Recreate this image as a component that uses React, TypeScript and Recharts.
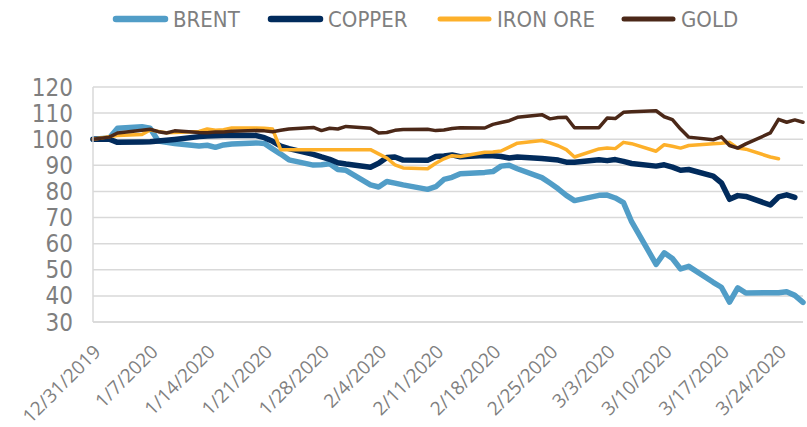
import React from 'react';
import { LineChart, Line, XAxis, YAxis, CartesianGrid } from 'recharts';

// Day offsets from 12/31/2019 of each trading day shown
const tradingDays = [0, 2, 3, 6, 7, 8, 9, 10, 13, 14, 15, 16, 17, 20, 21, 22, 23, 24, 27, 28, 29, 30, 31, 34, 35, 36, 37, 38, 41, 42, 43, 44, 45, 48, 49, 50, 51, 52, 55, 56, 57, 58, 59, 62, 63, 64, 65, 66, 69, 70, 71, 72, 73, 76, 77, 78, 79, 80, 83, 84, 85, 86, 87];

const brent = [100, 100.5, 104.2, 104.8, 104.2, 99.3, 98.8, 98.4, 97.4, 97.7, 96.9, 97.8, 98.2, 98.6, 98.4, 96.3, 94.3, 92.1, 90.1, 90.2, 90.6, 88.4, 88.1, 82.5, 81.7, 83.8, 83.2, 82.5, 80.8, 81.8, 84.6, 85.4, 86.8, 87.3, 87.6, 89.7, 90, 88.7, 85.3, 83.2, 81, 78.5, 76.5, 78.5, 78.6, 77.5, 75.7, 68.4, 52.1, 56.5, 54.3, 50.3, 51.3, 45.2, 43.3, 37.6, 43.1, 41.1, 41.2, 41.2, 41.6, 40.2, 37.5];

const copper = [100, 100, 98.8, 98.9, 99, 99.3, 99.6, 99.9, 101, 101.2, 101.3, 101.4, 101.5, 101.4, 100.6, 99.2, 97.4, 96.4, 94.2, 93.2, 92.3, 91, 90.5, 89.3, 90.8, 93, 93.2, 92, 91.9, 93.4, 93.6, 94, 93.3, 93.8, 93.7, 93.4, 92.8, 93.2, 92.6, 92.3, 92, 91.2, 91.2, 92.1, 91.8, 92.2, 91.5, 90.7, 89.7, 90.2, 89.3, 88.1, 88.4, 85.9, 83.3, 77, 78.4, 78.1, 74.8, 77.9, 78.7, 77.7, null];

const ironOre = [100, 101, 101.4, 101.8, 103.5, 103, 102.5, 102.6, 103, 103.9, 103.4, 103.6, 104.3, 104.3, 104.2, 103.9, 96, 96, 96, 96, 96, 96, 96, 96, 94.4, 92.8, 90.2, 89, 88.7, 90.8, 92.5, 93.7, 93.4, 95, 95.1, 95.5, 97, 98.5, 99.5, 98.6, 97.5, 96, 93.2, 96.3, 96.6, 96.4, 98.8, 98.3, 95.4, 97.9, 97.3, 96.6, 97.6, 98.3, 98.5, 98.8, 96.6, 96.2, 93.2, 92.5, null, null, null];

const gold = [100, 100.8, 102.4, 103.4, 103.8, 102.9, 102.4, 103.2, 102.6, 102.5, 102.8, 102.8, 103.1, 103.3, 103.2, 102.9, 103.4, 103.9, 104.5, 103.3, 104.2, 103.9, 104.9, 104.2, 102.4, 102.6, 103.4, 103.7, 103.8, 103.3, 103.5, 104.1, 104.4, 104.3, 105.7, 106.4, 107.1, 108.4, 109.4, 107.8, 108.3, 108.4, 104.4, 104.4, 108.1, 107.9, 110.3, 110.5, 110.9, 108.6, 107.5, 103.9, 100.8, 99.8, 100.9, 97.6, 96.6, 98.2, 102.4, 107.6, 106.5, 107.4, 106.5];

const tickDays = [0, 7, 14, 21, 28, 35, 42, 49, 56, 63, 70, 77, 84];
const tickLabels = ['12/31/2019', '1/7/2020', '1/14/2020', '1/21/2020', '1/28/2020', '2/4/2020', '2/11/2020', '2/18/2020', '2/25/2020', '3/3/2020', '3/10/2020', '3/17/2020', '3/24/2020'];
const yTicks = [30, 40, 50, 60, 70, 80, 90, 100, 110, 120];

const seriesNames = ['BRENT', 'COPPER', 'IRON ORE', 'GOLD'];
const seriesKeys = ['brent', 'copper', 'ironOre', 'gold'];
const seriesColors = ['#519dc7', '#012b5c', '#fdb02a', '#4b2818'];
const seriesWidths = [5.5, 5.5, 3.5, 3.5];
const legendWidths = [6.5, 6.5, 5, 5];

const data = tradingDays.map((d, i) => ({
  day: d,
  brent: brent[i],
  copper: copper[i],
  ironOre: ironOre[i],
  gold: gold[i],
}));

const narrow = "'Liberation Sans Narrow', 'Arial Narrow', 'DejaVu Sans Condensed', sans-serif";
const regular = "'Open Sans', 'Noto Sans', sans-serif";

const XTick = (props: any) => {
  const { x, y, payload } = props;
  const idx = tickDays.indexOf(payload.value);
  const label = idx >= 0 ? tickLabels[idx] : '';
  return (
    <g transform={`translate(${x + 4},${y + 24}) rotate(-45)`}>
      <text textAnchor="end" dominantBaseline="central" fill="#7f7f7f" fontSize={19} fontFamily={regular}>
        {label}
      </text>
    </g>
  );
};

const legendLineX = [113, 268, 437, 621];

const Legend = () => (
  <svg width={807} height={40} style={{ position: 'absolute', left: 0, top: 0 }}>
    {seriesNames.map((n, i) => (
      <g key={n}>
        <line
          x1={legendLineX[i] + 3}
          y1={19}
          x2={legendLineX[i] + 52}
          y2={19}
          stroke={seriesColors[i]}
          strokeWidth={legendWidths[i]}
          strokeLinecap="round"
        />
        <text
          x={legendLineX[i] + 60}
          y={19}
          dominantBaseline="central"
          fill="#7f7f7f"
          fontSize={22}
          fontFamily={narrow}
        >
          {n}
        </text>
      </g>
    ))}
  </svg>
);

export default function App() {
  return (
    <div style={{ position: 'absolute', left: 0, top: 0, width: 807, height: 427, background: '#fff' }}>
      <LineChart width={807} height={427} data={data} margin={{ top: 87, right: 4, bottom: 0, left: 0 }}>
        <CartesianGrid vertical={false} stroke="#d9d9d9" strokeWidth={1.5} />
        <XAxis
          dataKey="day"
          type="number"
          domain={[0, 87]}
          ticks={tickDays}
          interval={0}
          height={105}
          axisLine={{ stroke: '#d9d9d9', strokeWidth: 1.5 }}
          tickLine={false}
          tickSize={0}
          tick={<XTick />}
        />
        <YAxis
          domain={[30, 120]}
          ticks={yTicks}
          interval={0}
          width={93}
          axisLine={{ stroke: '#d9d9d9', strokeWidth: 1.5 }}
          tickLine={false}
          tickSize={0}
          tickMargin={20}
          tick={{ fill: '#7f7f7f', fontSize: 24, fontFamily: narrow }}
        />
        {seriesKeys.map((k, i) => (
          <Line
            key={k}
            type="linear"
            dataKey={k}
            stroke={seriesColors[i]}
            strokeWidth={seriesWidths[i]}
            strokeLinejoin="round"
            strokeLinecap="round"
            dot={false}
            activeDot={false}
            isAnimationActive={false}
          />
        ))}
      </LineChart>
      <Legend />
    </div>
  );
}
